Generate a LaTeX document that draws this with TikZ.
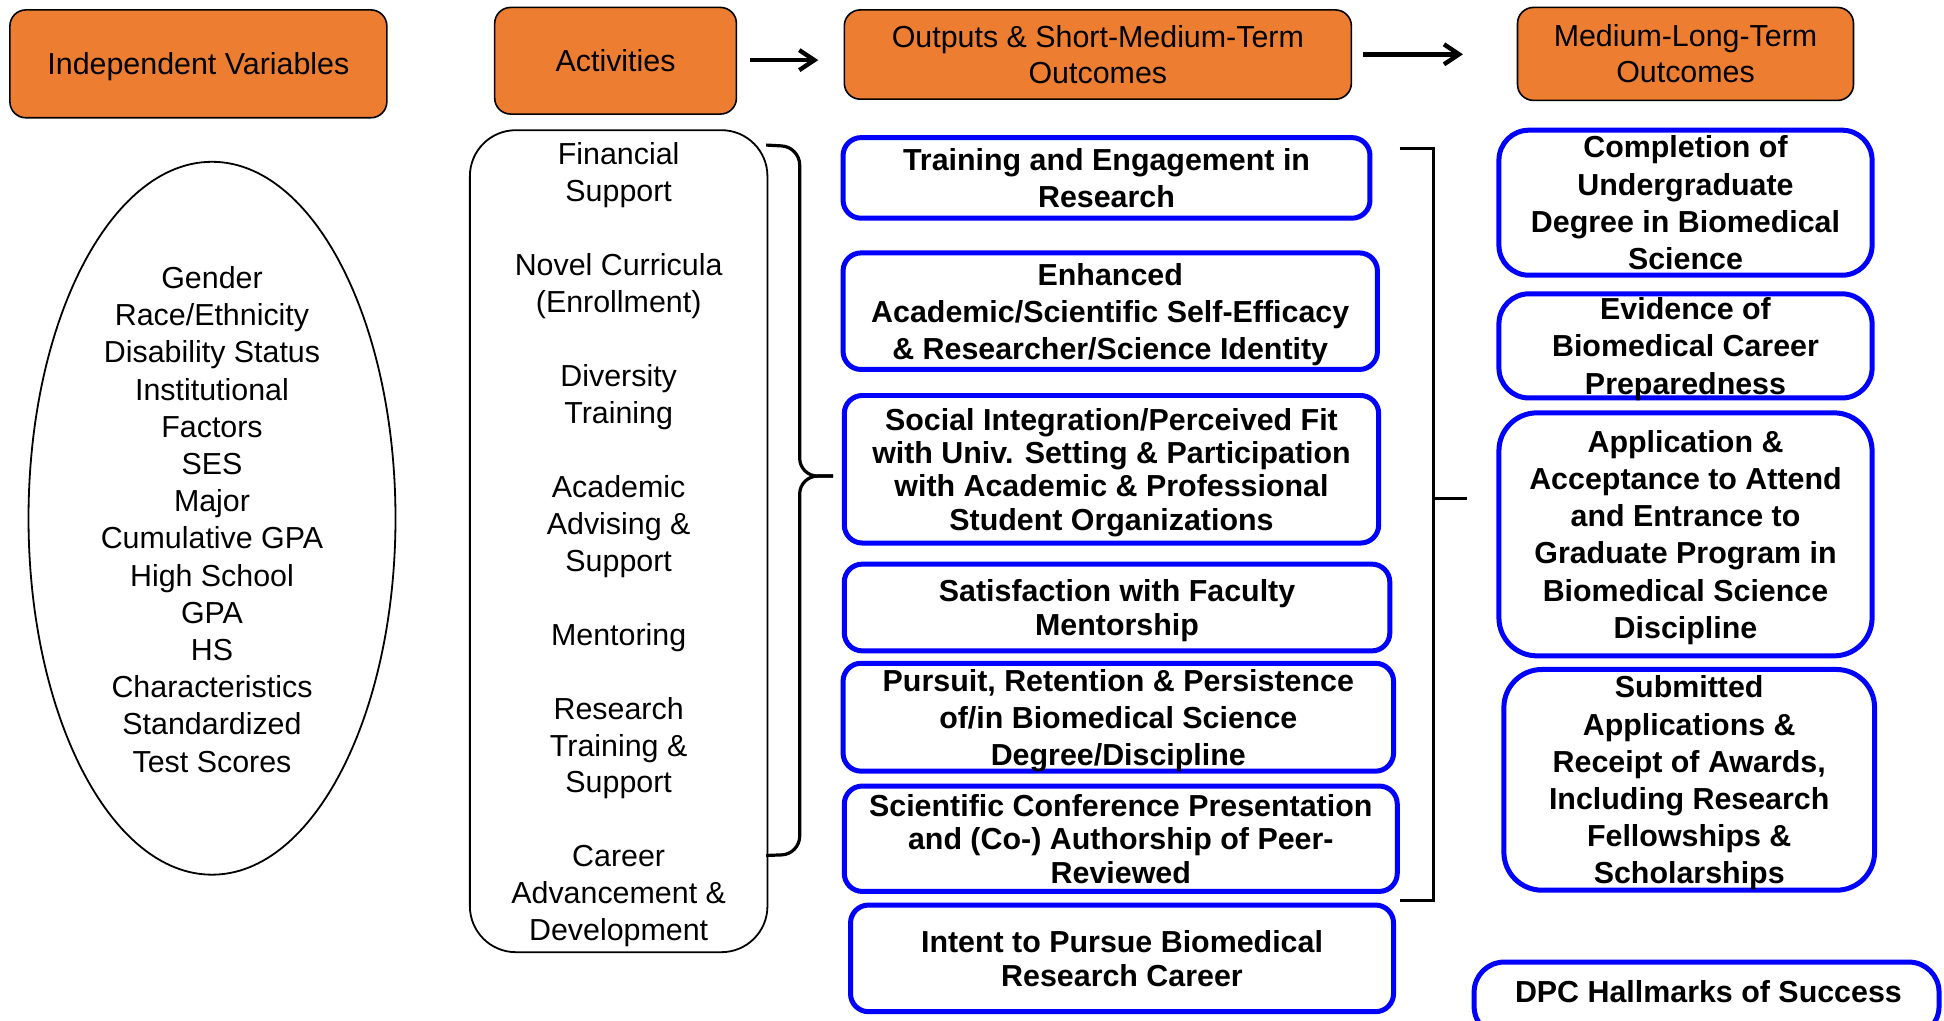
\documentclass[tikz,border=0pt]{standalone}
\usepackage{fontspec}
\setmainfont{Liberation Sans}
\usetikzlibrary{arrows.meta,shapes.geometric}
\definecolor{hdrorange}{HTML}{ED7D31}
\definecolor{bblue}{HTML}{0000FF}
\begin{document}
\begin{tikzpicture}[x=0.62pt,y=-0.62pt,
  sz/.style 2 args={minimum width=#1*0.62pt, minimum height=#2*0.62pt},
  hdr/.style={draw=black, line width=0.8pt, fill=hdrorange, rounded corners=8pt, align=center, inner sep=0pt, text depth=-1pt, font=\fontsize{15.2}{18}\selectfont},
  bbox/.style={draw=bblue, line width=2.5pt, rounded corners=9pt, align=center, inner xsep=0pt, inner ysep=-6pt, text depth=-2pt, font=\bfseries\fontsize{15.2}{18.6}\selectfont},
  tight/.style={font=\bfseries\fontsize{15.2}{16.7}\selectfont},
  plain/.style={align=center, inner sep=0pt, font=\fontsize{15.2}{18.6}\selectfont},
  conn/.style={line width=1.6pt, black},
  arr/.style={line width=2.2pt, black, -{Straight Barb[length=7.5pt,width=10pt]}},
]
\useasboundingbox (0,0) rectangle (1568,823);
\clip (0,0) rectangle (1568,823);
\fill[white] (0,0) rectangle (1568,823);

% headers
\node[hdr, sz={304}{87}] (hiv) at (160,51.5) {Independent Variables};
\node[hdr, sz={195}{86}] (hact) at (496.5,49) {Activities};
\node[hdr, sz={409}{72}] (hout) at (885.5,44) {Outputs \& Short-Medium-Term\\Outcomes};
\node[hdr, sz={271}{75}] (hmlt) at (1359.5,43.5) {Medium-Long-Term\\Outcomes};

% header arrows
\coordinate (a1s) at (605,48.5);
\coordinate (a1e) at (660,48.5);
\coordinate (a2s) at (1099,43.8);
\coordinate (a2e) at (1180,43.8);
\draw[arr] (a1s) -- (a1e);
\draw[arr] (a2s) -- (a2e);

% independent variables ellipse
\node[ellipse, draw, line width=0.9pt, sz={296}{575}, inner sep=0pt] (iv) at (171,418) {};
\node[plain] (ivt) at (171,419) {Gender\\Race/Ethnicity\\Disability Status\\Institutional\\Factors\\SES\\Major\\Cumulative GPA\\High School\\GPA\\HS\\Characteristics\\Standardized\\Test Scores};

% activities box
\node[draw, line width=0.9pt, rounded corners=23pt, sz={240}{663}, inner sep=0pt] (act) at (499,436.5) {};
\node[plain, font=\fontsize{15.2}{18.48}\selectfont] (actt) at (499,439.5) {Financial\\Support\\[18.48pt]Novel Curricula\\(Enrollment)\\[18.48pt]Diversity\\Training\\[18.48pt]Academic\\Advising \&\\Support\\[18.48pt]Mentoring\\[18.48pt]Research\\Training \&\\Support\\[18.48pt]Career\\Advancement \&\\Development};

% brace between activities and outputs
\coordinate (br1a) at (618,117);
\coordinate (br1b) at (645,118.5);
\coordinate (br1c) at (645,384);
\coordinate (br1t) at (672,384);
\coordinate (br1d) at (645,689);
\coordinate (br1e) at (618,690);
\draw[conn, rounded corners=9pt] (br1a) -- (br1b) -- (br1c) -- (br1t);
\draw[conn, rounded corners=9pt] (br1t) -- (br1c) -- (br1d) -- (br1e);

% outputs column
\node[bbox, sz={425}{65}] (o1) at (892.5,143.5) {Training and Engagement in\\Research};
\node[bbox, sz={431}{94}] (o2) at (895.5,251) {Enhanced\\Academic/Scientific Self-Efficacy\\\& Researcher/Science Identity};
\node[bbox, tight, sz={431}{119}] (o3) at (896.5,378.5) {Social Integration/Perceived Fit\\with Univ. Setting \& Participation\\with Academic \& Professional\\Student Organizations};
\node[bbox, tight, sz={440}{70}] (o4) at (901,490) {Satisfaction with Faculty\\Mentorship};
\node[bbox, sz={444}{87}] (o5) at (902,578.5) {Pursuit, Retention \& Persistence\\of/in Biomedical Science\\Degree/Discipline};
\node[bbox, tight, sz={446}{85}] (o6) at (904,676.5) {Scientific Conference Presentation\\and (Co-) Authorship of Peer-\\Reviewed};
\node[bbox, tight, sz={438}{86}] (o7) at (905,773) {Intent to Pursue Biomedical\\Research Career};

% bracket between outputs and long-term outcomes
\coordinate (br2a) at (1129,119.5);
\coordinate (br2b) at (1156,119.5);
\coordinate (br2c) at (1156,726);
\coordinate (br2d) at (1129,726);
\coordinate (br2m) at (1156,402);
\coordinate (br2t) at (1183,402);
\draw[conn] (br2a) -- (br2b) -- (br2c) -- (br2d);
\draw[conn] (br2m) -- (br2t);

% medium-long-term column
\node[bbox, rounded corners=15pt, sz={301}{117}] (m1) at (1359.5,163.5) {Completion of\\Undergraduate\\Degree in Biomedical\\Science};
\node[bbox, rounded corners=15pt, sz={301}{84}] (m2) at (1359.5,279) {Evidence of\\Biomedical Career\\Preparedness};
\node[bbox, rounded corners=19pt, sz={301}{196}] (m3) at (1359.5,431) {Application \&\\Acceptance to Attend\\and Entrance to\\Graduate Program in\\Biomedical Science\\Discipline};
\node[bbox, rounded corners=19pt, sz={299}{178}] (m4) at (1362.5,629) {Submitted\\Applications \&\\Receipt of Awards,\\Including Research\\Fellowships \&\\Scholarships};

% DPC hallmark box
\node[bbox, rounded corners=15pt, sz={375}{60}] (dpc) at (1376.5,806) {};
\node[plain, font=\bfseries\fontsize{15.2}{18.6}\selectfont] (dpct) at (1378,800) {DPC Hallmarks of Success};
\end{tikzpicture}
\end{document}
